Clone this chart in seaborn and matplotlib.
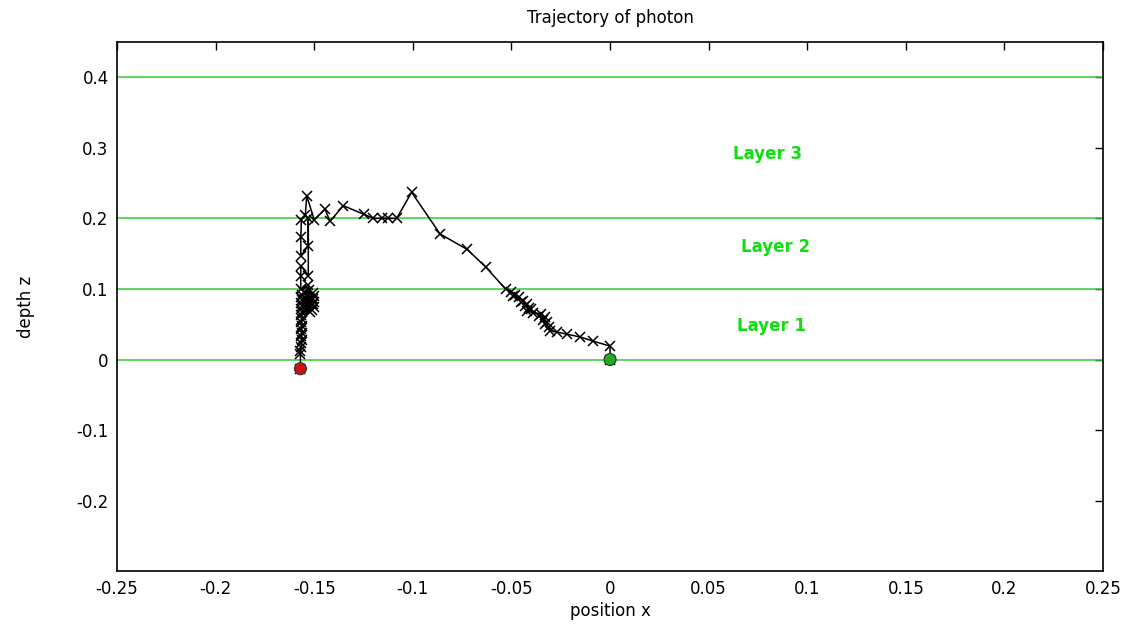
import matplotlib
matplotlib.use("Agg")
import matplotlib.pyplot as plt
import seaborn as sns
import pandas as pd

# ---- data ----
traj_x = [0.000, 0.000, -0.0085, -0.0152, -0.022, -0.027, -0.0304, -0.031, -0.033, -0.032,
          -0.034, -0.033, -0.036, -0.035, -0.039, -0.042, -0.040, -0.041, -0.043, -0.042,
          -0.045, -0.044, -0.046, -0.049, -0.048, -0.050, -0.053, -0.063, -0.0724, -0.0862,
          -0.1006, -0.1082, -0.1124, -0.1158, -0.120, -0.125, -0.1352, -0.142, -0.1445,
          -0.150, -0.1538, -0.1545, -0.1565, -0.1568, -0.1568, -0.1530, -0.1530, -0.1530,
          -0.1568, -0.1568, -0.1568, -0.1530, -0.1525, -0.1550, -0.1505, -0.1560, -0.1500,
          -0.1565, -0.1505, -0.1560, -0.1500, -0.1565, -0.1505, -0.1560, -0.1500, -0.1565,
          -0.1510, -0.1560, -0.1520, -0.1565, -0.1560, -0.1565, -0.1560, -0.1565, -0.1560,
          -0.1565, -0.1560, -0.1565, -0.1565, -0.1570, -0.1570, -0.1570]
traj_z = [0.000, 0.019, 0.026, 0.032, 0.036, 0.039, 0.041, 0.046, 0.050, 0.053,
          0.056, 0.060, 0.062, 0.065, 0.066, 0.069, 0.071, 0.073, 0.076, 0.078,
          0.081, 0.083, 0.088, 0.090, 0.092, 0.096, 0.100, 0.131, 0.156, 0.178,
          0.237, 0.200, 0.200, 0.200, 0.200, 0.206, 0.218, 0.196, 0.213,
          0.198, 0.232, 0.205, 0.198, 0.173, 0.147, 0.161, 0.200, 0.119,
          0.133, 0.119, 0.100, 0.105, 0.098, 0.096, 0.094, 0.092, 0.090,
          0.088, 0.086, 0.084, 0.082, 0.080, 0.078, 0.076, 0.074, 0.072,
          0.070, 0.068, 0.067, 0.063, 0.058, 0.053, 0.048, 0.043, 0.038,
          0.033, 0.028, 0.023, 0.018, 0.012, 0.008, -0.013]

layer_bounds = [0.0, 0.1, 0.2, 0.4]
layer_names = ["Layer 1", "Layer 2", "Layer 3"]
layer_label_x = [0.082, 0.084, 0.080]
layer_label_z = [0.047, 0.160, 0.291]

x_ticks = [-0.25, -0.2, -0.15, -0.1, -0.05, 0, 0.05, 0.1, 0.15, 0.2, 0.25]
x_tick_labels = ["-0.25", "-0.2", "-0.15", "-0.1", "-0.05", "0", "0.05", "0.1", "0.15", "0.2", "0.25"]
y_ticks = [-0.2, -0.1, 0, 0.1, 0.2, 0.3, 0.4]
y_tick_labels = ["-0.2", "-0.1", "0", "0.1", "0.2", "0.3", "0.4"]

sns.set_theme(style="white")
plt.rcParams["font.family"] = ["DejaVu Sans"]
plt.rcParams["axes.unicode_minus"] = False
plt.rcParams["text.color"] = "black"
plt.rcParams["axes.labelcolor"] = "black"

fig = plt.figure(figsize=(11.47, 6.27), dpi=100)
ax = fig.add_axes([0.102, 0.089, 0.8597, 0.844])

for b in layer_bounds:
    ax.axhline(b, color="#33cc33", lw=1.1, zorder=1)

df = pd.DataFrame({"x": traj_x, "z": traj_z})
sns.lineplot(data=df, x="x", y="z", sort=False, estimator=None, color="black",
             lw=1.1, marker="x", markersize=7, markeredgewidth=1.1,
             markeredgecolor="black", ax=ax, zorder=3)

ends = pd.DataFrame({"x": [traj_x[0], traj_x[-1]], "z": [traj_z[0], traj_z[-1]],
                     "kind": ["start", "end"]})
sns.scatterplot(data=ends, x="x", y="z", hue="kind",
                palette={"start": "#22aa22", "end": "#cc1111"},
                s=75, edgecolor="#333333", linewidth=0.8, legend=False, ax=ax, zorder=4)

for name, lx, lz in zip(layer_names, layer_label_x, layer_label_z):
    ax.text(lx, lz, name, color="#11dd11", fontsize=12, fontweight="bold",
            ha="center", va="center")

ax.set_xlim(-0.25, 0.25)
ax.set_ylim(-0.3, 0.45)
ax.set_xticks(x_ticks)
ax.set_xticklabels(x_tick_labels)
ax.set_yticks(y_ticks)
ax.set_yticklabels(y_tick_labels)
ax.tick_params(axis="both", which="both", direction="in", length=6, width=1,
               top=True, right=True, labelsize=12, colors="black", pad=6)
for sp in ax.spines.values():
    sp.set_visible(True)
    sp.set_color("black")
    sp.set_linewidth(1.2)

ax.set_title("Trajectory of photon", fontsize=12, pad=14, color="black")
ax.set_xlabel("position x", fontsize=12, labelpad=3)
ax.set_ylabel("depth z", fontsize=12, labelpad=30)

fig.savefig("out.png", dpi=100, facecolor="white")
